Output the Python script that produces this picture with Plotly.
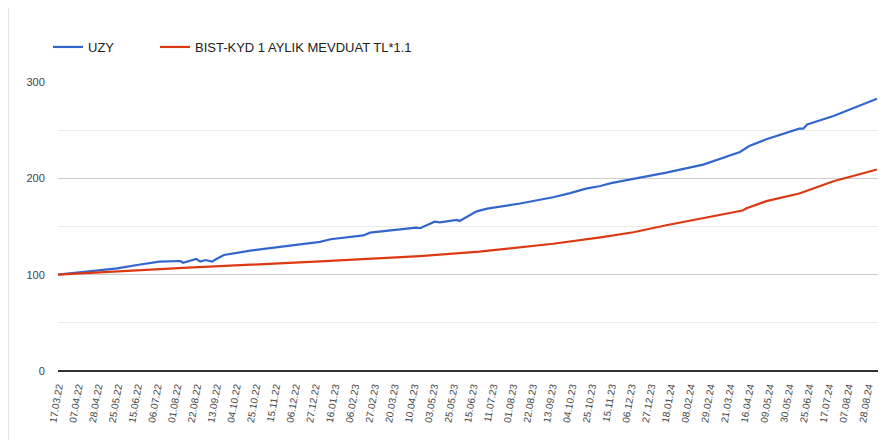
import plotly.graph_objects as go

# Tick labels (every 15th trading day)
tick_labels = [
    "17.03.22", "07.04.22", "28.04.22", "25.05.22", "15.06.22", "06.07.22", "01.08.22",
    "22.08.22", "13.09.22", "04.10.22", "25.10.22", "15.11.22", "06.12.22", "27.12.22",
    "16.01.23", "06.02.23", "27.02.23", "20.03.23", "10.04.23", "03.05.23", "25.05.23",
    "15.06.23", "11.07.23", "01.08.23", "22.08.23", "13.09.23", "04.10.23", "25.10.23",
    "15.11.23", "06.12.23", "27.12.23", "18.01.24", "08.02.24", "29.02.24", "21.03.24",
    "16.04.24", "09.05.24", "30.05.24", "25.06.24", "17.07.24", "07.08.24", "28.08.24",
]
label_step = 15  # trading days between labels

# UZY series (trading-day index, value)
uzy_day = [0, 22, 45, 60, 77, 93, 95, 105, 108, 112, 117, 120, 126, 146, 171, 184, 199,
           207, 232, 237, 272, 275, 286, 290, 303, 305, 310, 318, 326, 351, 376, 389, 401,
           412, 420, 437, 462, 490, 513, 518, 525, 538, 563, 566, 569, 589, 622]
uzy_value = [100, 103.5, 106.6, 110, 113.5, 114.2, 112.4, 116.3, 113.5, 115.2, 113.5, 116,
             120.4, 124.9, 129, 131.8, 134, 136.8, 140.7, 143.6, 148.9, 148.2, 155, 154.3,
             156.8, 155.7, 159.6, 165.7, 168.6, 173.9, 180.4, 184.6, 189.3, 192, 195, 199.5,
             205.9, 214.2, 224.9, 227.3, 233.6, 240.5, 251.6, 251.6, 256, 264.7, 282.7]

# BIST-KYD 1 AYLIK MEVDUAT TL*1.1 series
bist_day = [0, 95, 199, 275, 320, 376, 412, 437, 462, 488, 520, 523, 538, 563, 569, 589, 622]
bist_value = [100, 107, 113.8, 119.3, 123.9, 132.1, 138.8, 144, 151.3, 157.9, 166.6, 169,
              176.3, 184.3, 187.4, 197, 209.2]

tick_vals = [i * label_step for i in range(len(tick_labels))]

BLUE = "#3366cc"
RED = "#dc3912"
FONT = "Arial, Liberation Sans, sans-serif"
W, H = 884, 432

fig = go.Figure()
fig.add_trace(go.Scatter(x=uzy_day, y=uzy_value, mode="lines", name="UZY",
                         line=dict(color=BLUE, width=2.2), legend="legend"))
fig.add_trace(go.Scatter(x=bist_day, y=bist_value, mode="lines",
                         name="BIST-KYD 1 AYLIK MEVDUAT TL*1.1",
                         line=dict(color=RED, width=2.2), legend="legend2"))

legend_common = dict(orientation="h", xref="container", yref="container",
                     xanchor="left", yanchor="middle", y=1 - 39 / H,
                     font=dict(size=13, color="#222222"), bgcolor="rgba(0,0,0,0)",
                     borderwidth=0)

fig.update_layout(
    width=W, height=H,
    margin=dict(l=50, r=14, t=74, b=69, autoexpand=False),
    paper_bgcolor="white", plot_bgcolor="white",
    font=dict(family=FONT, size=13, color="#222222"),
    showlegend=True,
    legend=dict(x=40 / W, **legend_common),
    legend2=dict(x=147 / W, **legend_common),
    xaxis=dict(range=[0, 622.8], tickmode="array", tickvals=tick_vals, ticktext=tick_labels,
               tickangle=-80, tickfont=dict(size=10, color="#444444"),
               showgrid=False, zeroline=False, showline=False, automargin=False,
               ticks="outside", ticklen=5, tickcolor="rgba(0,0,0,0)"),
    yaxis=dict(range=[0, 300], tickvals=[0, 100, 200, 300],
               tickfont=dict(size=11, color="#444444"), automargin=False,
               showgrid=True, gridcolor="#cccccc", gridwidth=1,
               minor=dict(dtick=50, showgrid=True, gridcolor="#ebebeb", gridwidth=1),
               zeroline=True, zerolinecolor="#333333", zerolinewidth=1.5,
               showline=False, ticks="outside", ticklen=10, tickcolor="rgba(0,0,0,0)"),
)

# left border line of the screenshot
fig.add_shape(type="line", xref="paper", yref="paper", x0=-50 / 820, x1=-50 / 820,
              y0=-0.3, y1=1.35, line=dict(color="#dddddd", width=1.5))

fig.write_html("out.html")
